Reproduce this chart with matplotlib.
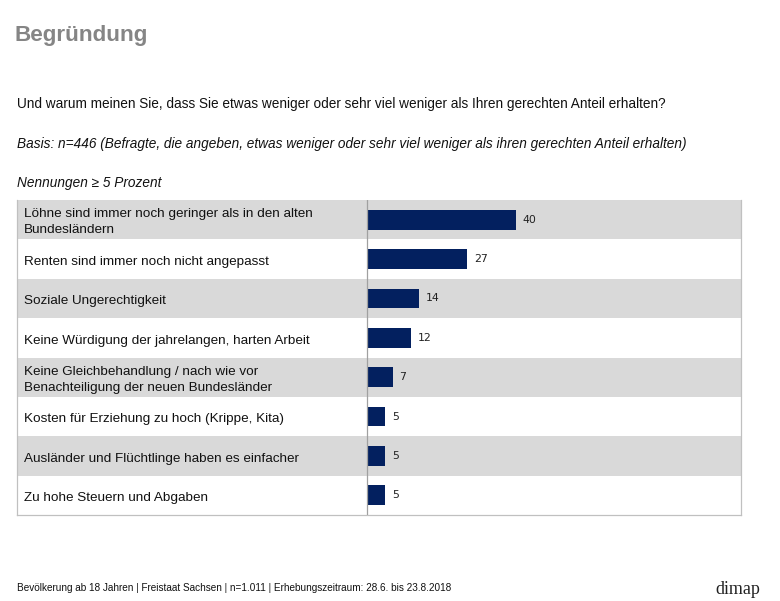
import matplotlib.pyplot as plt
from matplotlib.transforms import blended_transform_factory

# Data
labels = [
    "Löhne sind immer noch geringer als in den alten\nBundesländern",
    "Renten sind immer noch nicht angepasst",
    "Soziale Ungerechtigkeit",
    "Keine Würdigung der jahrelangen, harten Arbeit",
    "Keine Gleichbehandlung / nach wie vor\nBenachteiligung der neuen Bundesländer",
    "Kosten für Erziehung zu hoch (Krippe, Kita)",
    "Ausländer und Flüchtlinge haben es einfacher",
    "Zu hohe Steuern und Abgaben",
]
values = [40, 27, 14, 12, 7, 5, 5, 5]

title = "Begründung"
question = "Und warum meinen Sie, dass Sie etwas weniger oder sehr viel weniger als Ihren gerechten Anteil erhalten?"
basis = "Basis: n=446 (Befragte, die angeben, etwas weniger oder sehr viel weniger als ihren gerechten Anteil erhalten)"
note = "Nennungen \u2265 5 Prozent"
footer = "Bevölkerung ab 18 Jahren | Freistaat Sachsen | n=1.011 | Erhebungszeitraum: 28.6. bis 23.8.2018"

plt.rcParams['font.family'] = ['Liberation Sans', 'DejaVu Sans']

W, H = 780, 601
fig = plt.figure(figsize=(W / 100, H / 100), dpi=100)

# table area in pixels
left, right, top, bottom = 17, 741, 200, 515
ax = fig.add_axes([left / W, 1 - bottom / H, (right - left) / W, (bottom - top) / H])

px_per_unit = 3.73
zero_px = 366.7
ax.set_xlim(-(zero_px - left) / px_per_unit, (right - zero_px) / px_per_unit)
n = len(values)
ax.set_ylim(n - 0.5, -0.5)

for i in range(n):
    if i % 2 == 0:
        ax.axhspan(i - 0.5, i + 0.5, color='#d9d9d9', lw=0, zorder=0)

ax.barh(range(n), values, height=0.5, color='#03205f', zorder=2)
ax.axvline(0, color='#a0a0a0', lw=0.9, zorder=3)

trans = blended_transform_factory(ax.transAxes, ax.transData)
for i, (lab, v) in enumerate(zip(labels, values)):
    ax.text(7 / (right - left), i + 0.07, lab, transform=trans, ha='left', va='center',
            fontsize=9.7, color='#111111', linespacing=1.45)
    ax.text(v + 1.8, i, str(v), ha='left', va='center', fontsize=7.8,
            family='DejaVu Sans', color='#222222')

ax.set_xticks([])
ax.set_yticks([])
for s in ax.spines.values():
    s.set_color('#c0c0c0')
    s.set_linewidth(0.9)
ax.spines['top'].set_visible(False)

fig.text(15 / W, 1 - 35 / H, title, fontsize=16.2, fontweight='bold',
         color='#858585', va='center', ha='left')
fig.text(17 / W, 1 - 104 / H, question, fontsize=9.8, color='#111111', va='center')
fig.text(17 / W, 1 - 144 / H, basis, fontsize=9.8, style='italic', color='#111111', va='center')
fig.text(17 / W, 1 - 183 / H, note, fontsize=9.8, style='italic', color='#111111', va='center')
fig.text(17 / W, 1 - 588 / H, footer, fontsize=7.2, color='#111111', va='center')
fig.text(760 / W, 1 - 590 / H, "dimap", fontsize=13, family='Liberation Serif',
         color='#222222', va='center', ha='right')

fig.savefig('out.png', dpi=100)
